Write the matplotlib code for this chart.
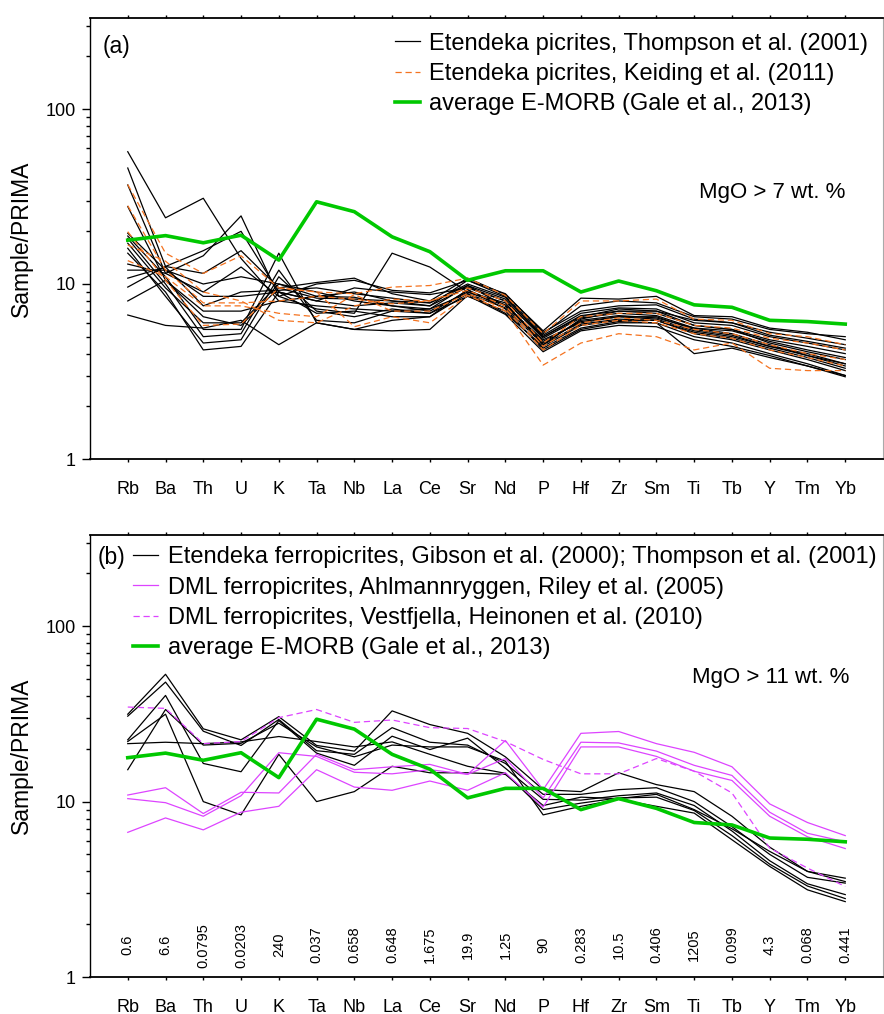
import matplotlib
matplotlib.use('Agg')
import matplotlib.pyplot as plt
import numpy as np

plt.rcParams['font.family'] = ['Liberation Sans', 'DejaVu Sans']

elements = ['Rb', 'Ba', 'Th', 'U', 'K', 'Ta', 'Nb', 'La', 'Ce', 'Sr',
            'Nd', 'P', 'Hf', 'Zr', 'Sm', 'Ti', 'Tb', 'Y', 'Tm', 'Yb']
prima = ['0.6', '6.6', '0.0795', '0.0203', '240', '0.037', '0.658', '0.648', '1.675', '19.9',
         '1.25', '90', '0.283', '10.5', '0.406', '1205', '0.099', '4.3', '0.068', '0.441']

# average E-MORB (Gale et al., 2013)
emorb = [17.8, 18.9, 17.2, 19.0, 13.7, 29.5, 25.9, 18.6, 15.3, 10.5,
         11.9, 11.9, 9.0, 10.4, 9.15, 7.6, 7.36, 6.2, 6.1, 5.9]

# (a) Etendeka picrites, Thompson et al. (2001)
thompson = [
    [57, 23.9, 30.9, 14.0, 8.0, 8.5, 9.0, 8.0, 7.5, 10.5, 8.5, 5.2, 7.5, 8.0, 7.8, 6.5, 6.3, 5.5, 5.2, 5.0],
    [46, 12.6, 11.5, 15.5, 9.5, 10.2, 10.8, 8.8, 8.0, 10.8, 8.7, 5.4, 8.3, 8.2, 8.5, 6.6, 6.5, 5.6, 5.3, 4.8],
    [36.8, 11.5, 14.5, 24.5, 8.5, 7.2, 6.8, 15.0, 12.5, 9.0, 7.8, 4.5, 6.3, 7.0, 6.8, 5.8, 5.5, 4.6, 4.1, 3.7],
    [27.7, 10.5, 6.5, 5.8, 9.5, 8.3, 8.2, 8.0, 7.8, 9.8, 7.5, 4.8, 6.0, 6.5, 6.5, 5.5, 5.1, 4.4, 4.0, 3.5],
    [19.5, 12.0, 8.5, 8.5, 9.0, 8.0, 9.5, 9.0, 8.7, 9.5, 8.0, 5.0, 6.5, 7.2, 7.0, 5.8, 5.5, 4.8, 4.4, 4.0],
    [18.8, 11.0, 5.5, 5.5, 15.0, 6.0, 5.5, 6.2, 6.5, 9.3, 7.2, 4.2, 5.5, 6.0, 6.0, 4.0, 4.3, 3.8, 3.4, 3.0],
    [18.2, 10.0, 5.0, 5.2, 12.0, 6.2, 6.0, 7.0, 7.2, 8.8, 6.8, 4.4, 5.8, 6.2, 6.2, 5.2, 4.8, 4.2, 3.7, 3.2],
    [17.1, 9.5, 6.0, 6.0, 10.0, 9.0, 8.0, 7.5, 7.0, 9.0, 7.5, 4.6, 6.2, 6.6, 6.4, 5.6, 5.2, 4.5, 3.9, 3.4],
    [16.0, 8.5, 4.6, 4.8, 11.0, 7.0, 6.5, 7.2, 6.8, 8.5, 7.0, 4.3, 5.6, 6.1, 6.0, 5.0, 4.6, 4.0, 3.5, 3.0],
    [15.0, 9.0, 4.2, 4.4, 9.0, 6.8, 7.0, 6.5, 6.5, 8.8, 7.3, 4.5, 5.9, 6.3, 6.2, 5.3, 4.9, 4.3, 3.8, 3.3],
    [13.0, 11.5, 9.0, 12.5, 8.5, 10.0, 10.5, 9.2, 8.9, 10.5, 8.8, 5.3, 7.0, 7.5, 7.6, 6.3, 6.0, 5.3, 4.9, 4.5],
    [12.0, 12.0, 10.0, 11.0, 10.0, 8.5, 8.4, 7.5, 7.2, 9.8, 8.2, 5.1, 6.8, 7.3, 7.2, 6.0, 5.8, 5.0, 4.6, 4.2],
    [10.8, 12.5, 7.5, 9.0, 9.2, 9.5, 8.8, 8.3, 7.8, 10.0, 8.4, 5.0, 6.6, 7.0, 7.0, 6.2, 6.0, 5.1, 4.7, 4.3],
    [9.6, 12.6, 15.5, 20.0, 9.0, 8.0, 7.5, 7.8, 7.5, 9.6, 8.0, 4.9, 6.4, 6.8, 6.6, 5.6, 5.4, 4.7, 4.2, 3.8],
    [8.0, 10.5, 7.0, 7.0, 8.0, 7.5, 7.2, 7.0, 6.8, 9.2, 7.6, 4.7, 6.1, 6.5, 6.3, 5.4, 5.0, 4.4, 3.9, 3.5],
    [6.65, 5.8, 5.6, 6.2, 4.5, 6.0, 5.5, 5.4, 5.5, 8.6, 6.7, 4.1, 5.4, 5.8, 5.7, 4.8, 4.4, 3.9, 3.4, 2.95],
]

# (a) Etendeka picrites, Keiding et al. (2011)
keiding = [
    [37, 15, 11.5, 14.5, 9.5, 9.0, 8.8, 9.6, 9.8, 10.8, 8.6, 5.2, 8.0, 8.0, 8.2, 6.3, 6.2, 5.2, 5.0, 4.5],
    [28, 12, 7.8, 7.8, 8.0, 8.5, 8.2, 7.7, 8.0, 9.5, 8.0, 4.6, 6.5, 6.8, 6.8, 5.8, 5.6, 4.9, 4.6, 4.2],
    [19.9, 10.5, 5.8, 5.9, 9.5, 9.0, 5.7, 6.5, 6.0, 8.6, 7.0, 3.44, 4.6, 5.2, 5.0, 4.2, 4.6, 3.3, 3.2, 3.2],
    [16.7, 13.5, 9.0, 8.0, 6.2, 6.0, 7.5, 8.2, 8.0, 9.2, 7.5, 4.4, 6.0, 6.4, 6.2, 5.5, 5.2, 4.5, 4.0, 3.7],
    [13.6, 11.0, 7.5, 7.5, 6.8, 6.5, 8.7, 7.0, 7.0, 8.8, 7.2, 4.2, 5.8, 6.2, 6.0, 5.2, 4.9, 4.2, 3.8, 3.4],
]

# (b) Etendeka ferropicrites, Gibson et al. (2000); Thompson et al. (2001)
gibson = [
    [31.5, 53.2, 26.0, 22.5, 30.5, 20.9, 19.4, 32.9, 27.5, 24.5, 18.0, 11.7, 11.4, 14.6, 12.5, 11.4, 8.25, 5.5, 4.0, 3.66],
    [30.7, 48.0, 25.2, 20.9, 29.4, 19.5, 18.6, 26.4, 21.8, 21.0, 16.5, 11.0, 11.0, 11.7, 12.0, 10.0, 7.2, 5.0, 3.7, 3.43],
    [22.5, 40.3, 16.5, 14.8, 29.0, 18.9, 16.1, 23.6, 19.8, 23.0, 15.5, 10.3, 10.2, 10.8, 11.2, 9.5, 6.8, 4.6, 3.4, 2.95],
    [21.4, 21.8, 21.4, 21.9, 23.5, 22.0, 20.5, 21.9, 18.6, 15.9, 14.5, 9.0, 9.8, 10.5, 10.6, 8.9, 6.4, 4.4, 3.3, 2.8],
    [15.2, 33.5, 21.0, 21.5, 28.0, 20.5, 18.0, 21.0, 20.5, 20.5, 17.0, 8.4, 9.4, 10.3, 9.4, 8.6, 6.06, 4.27, 3.14, 2.69],
    [22.0, 31.5, 10.0, 8.4, 18.6, 10.0, 11.4, 15.9, 14.6, 14.6, 14.3, 9.5, 10.6, 10.4, 11.0, 9.0, 7.0, 5.2, 4.0, 3.5],
]

# (b) DML ferropicrites, Ahlmannryggen, Riley et al. (2005)
riley = [
    [10.9, 12.0, 8.55, 11.3, 11.2, 18.6, 15.2, 15.8, 16.3, 14.3, 22.3, 11.7, 24.5, 25.1, 21.4, 19.1, 15.8, 9.7, 7.6, 6.4],
    [10.4, 9.86, 8.25, 10.8, 19.0, 18.1, 14.7, 14.4, 15.2, 14.3, 17.6, 10.5, 21.8, 21.6, 19.4, 16.1, 14.1, 8.7, 6.6, 5.9],
    [6.68, 8.07, 6.9, 8.7, 9.4, 15.2, 12.1, 11.6, 13.1, 11.6, 14.6, 9.3, 20.5, 20.5, 18.1, 14.9, 13.2, 8.25, 6.3, 5.4],
]

# (b) DML ferropicrites, Vestfjella, Heinonen et al. (2010)
heinonen = [34.6, 34.0, 21.4, 22.0, 30.1, 33.5, 28.3, 29.2, 26.4, 26.1,
            22.0, 17.4, 14.4, 14.4, 17.6, 14.9, 11.2, 5.43, 4.18, 3.28]

x = np.arange(1, len(elements) + 1)
green = '#00c800'
orange = '#f47320'
magenta = '#dd44ff'

fig = plt.figure(figsize=(8.84, 10.14), dpi=100)
ax_a = fig.add_axes([90/884, (1014-459)/1014, 793/884, 441/1014])
ax_b = fig.add_axes([90/884, (1014-977)/1014, 793/884, 442/1014])


def style_axes(ax):
    ax.set_yscale('log')
    ax.set_xlim(0, 21)
    ax.set_ylim(1, 10**(441/175))
    ax.set_xticks(x)
    ax.set_xticklabels(elements)
    ax.set_yticks([1, 10, 100])
    ax.set_yticklabels(['1', '10', '100'])
    ax.tick_params(axis='x', which='both', direction='out', top=True, length=2.5,
                   width=1, pad=13, labelsize=13)
    ax.tick_params(axis='y', which='major', direction='out', length=5.5, width=1,
                   pad=5, labelsize=13)
    ax.tick_params(axis='y', which='minor', direction='out', length=3, width=1)
    ax.yaxis.set_minor_formatter(plt.NullFormatter())
    ax.spines['top'].set_linewidth(1.3)
    ax.spines['bottom'].set_linewidth(1.3)
    ax.spines['left'].set_linewidth(1.0)
    ax.spines['right'].set_linewidth(0.8)
    ax.spines['right'].set_color('#aaaaaa')
    ax.set_ylabel('Sample/PRIMA', fontsize=16.5)
    ax.yaxis.set_label_coords(-0.072, 0.5)


# panel (a)
for i, row in enumerate(thompson):
    ax_a.plot(x, row, color='black', lw=0.9,
              label='Etendeka picrites, Thompson et al. (2001)' if i == 0 else None)
for i, row in enumerate(keiding):
    ax_a.plot(x, row, color=orange, lw=0.9, ls=(0, (5, 3)),
              label='Etendeka picrites, Keiding et al. (2011)' if i == 0 else None)
ax_a.plot(x, emorb, color=green, lw=2.6, label='average E-MORB (Gale et al., 2013)')
style_axes(ax_a)
ax_a.text(0.0334, 0.9365, '(a)', transform=ax_a.transAxes, fontsize=16.5, ha='center', va='center')
ax_a.text(0.860, 0.6054, 'MgO > 7 wt. %', transform=ax_a.transAxes, fontsize=16,
          ha='center', va='center')
ax_a.legend(loc='upper left', bbox_to_anchor=(0.3846, 0.967), frameon=False, fontsize=17,
            handlelength=1.06, handletextpad=0.38, labelspacing=0.35, borderpad=0,
            borderaxespad=0)

# panel (b)
for i, row in enumerate(gibson):
    ax_b.plot(x, row, color='black', lw=0.9,
              label='Etendeka ferropicrites, Gibson et al. (2000); Thompson et al. (2001)' if i == 0 else None)
for i, row in enumerate(riley):
    ax_b.plot(x, row, color=magenta, lw=0.9,
              label='DML ferropicrites, Ahlmannryggen, Riley et al. (2005)' if i == 0 else None)
ax_b.plot(x, heinonen, color=magenta, lw=0.9, ls=(0, (5, 3)),
          label='DML ferropicrites, Vestfjella, Heinonen et al. (2010)')
ax_b.plot(x, emorb, color=green, lw=2.6, label='average E-MORB (Gale et al., 2013)')
style_axes(ax_b)
ax_b.text(0.0271, 0.950, '(b)', transform=ax_b.transAxes, fontsize=16.5, ha='center', va='center')
ax_b.text(0.859, 0.6765, 'MgO > 11 wt. %', transform=ax_b.transAxes, fontsize=16,
          ha='center', va='center')
ax_b.legend(loc='upper left', bbox_to_anchor=(0.0542, 0.9744), frameon=False, fontsize=17,
            handlelength=1.06, handletextpad=0.42, labelspacing=0.35, borderpad=0,
            borderaxespad=0)
for xi, p in zip(x, prima):
    ax_b.text(xi, 1.52, p, rotation=90, fontsize=10.5, ha='center', va='center')

fig.savefig('out.png', dpi=100)
